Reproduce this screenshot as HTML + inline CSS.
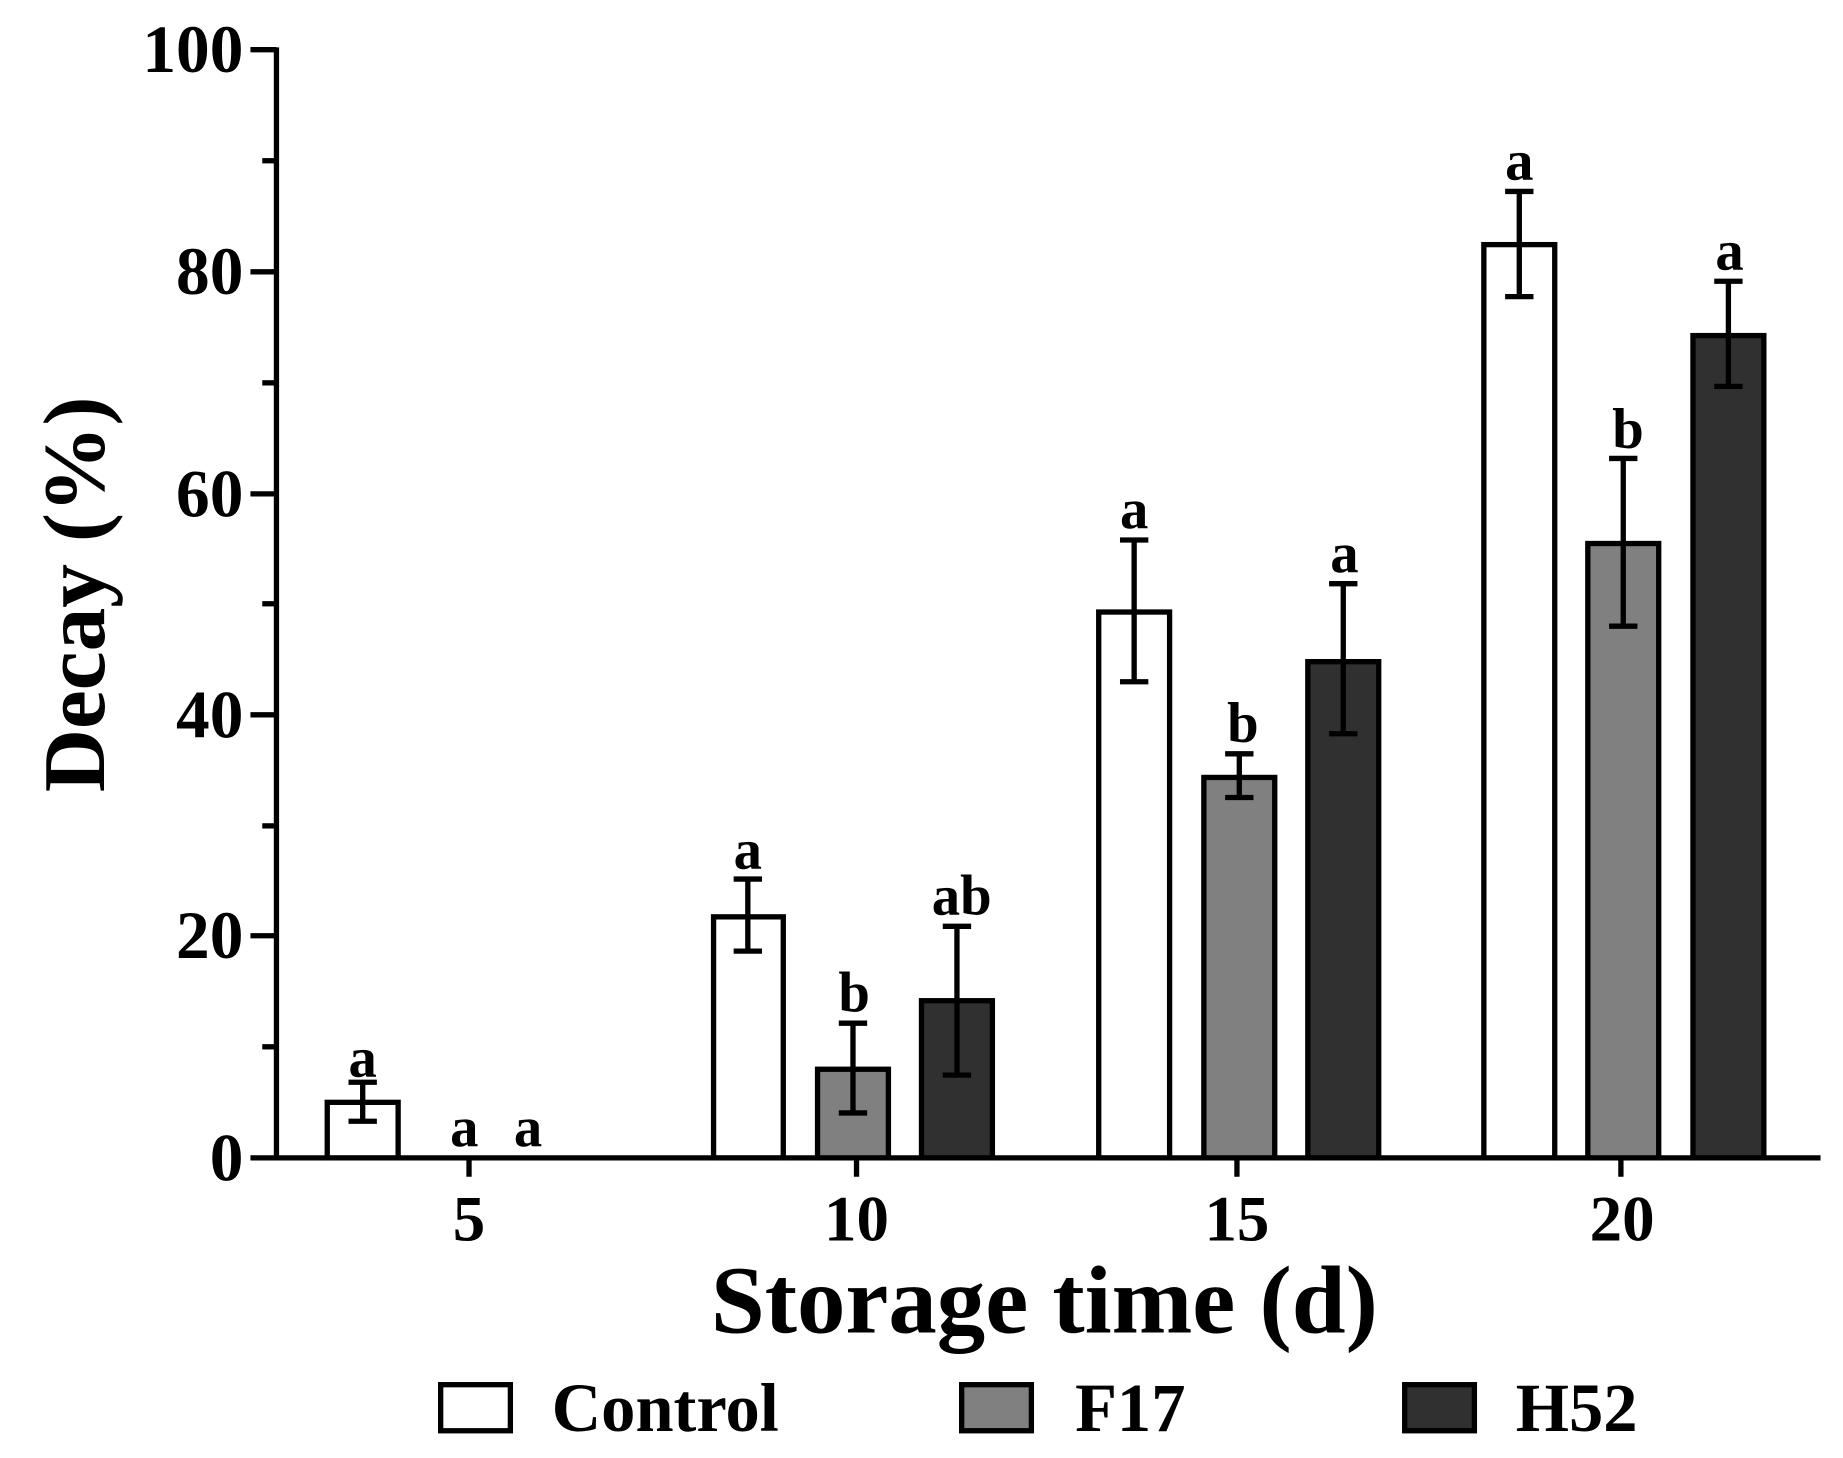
<!DOCTYPE html>
<html><head><style>html,body{margin:0;padding:0;background:#fff}svg{display:block}</style></head>
<body>
<svg width="1843" height="1458" viewBox="0 0 1560 1234" xmlns="http://www.w3.org/2000/svg" font-family="'Liberation Serif',serif" font-weight="bold">
<rect width="1560" height="1234" fill="#fff"/>
<g stroke="#000" stroke-width="4.5" fill="none">
<line x1="234" y1="40" x2="234" y2="982"/>
<line x1="212" y1="980" x2="1541" y2="980"/>
<line x1="212" y1="42" x2="234" y2="42"/>
<line x1="212" y1="230" x2="234" y2="230"/>
<line x1="212" y1="418" x2="234" y2="418"/>
<line x1="212" y1="605" x2="234" y2="605"/>
<line x1="212" y1="792" x2="234" y2="792"/>
<line x1="222" y1="136" x2="234" y2="136"/>
<line x1="222" y1="324" x2="234" y2="324"/>
<line x1="222" y1="511" x2="234" y2="511"/>
<line x1="222" y1="699" x2="234" y2="699"/>
<line x1="222" y1="886" x2="234" y2="886"/>
<line x1="397" y1="980" x2="397" y2="996"/>
<line x1="725" y1="980" x2="725" y2="996"/>
<line x1="1047" y1="980" x2="1047" y2="996"/>
<line x1="1372" y1="980" x2="1372" y2="996"/>
</g>
<g font-size="57" text-anchor="end">
<text x="206" y="61">100</text>
<text x="206" y="249">80</text>
<text x="206" y="437">60</text>
<text x="206" y="624">40</text>
<text x="206" y="811">20</text>
<text x="206" y="999">0</text>
</g>
<g font-size="55" text-anchor="middle">
<text x="397" y="1050">5</text>
<text x="725" y="1050">10</text>
<text x="1047" y="1050">15</text>
<text x="1373" y="1050">20</text>
</g>
<text x="884" y="1128" font-size="82" text-anchor="middle">Storage time (d)</text>
<text transform="translate(88,503) rotate(-90)" font-size="74" text-anchor="middle">Decay (%)</text>
<g stroke="#000" stroke-width="4.5">
<rect x="277" y="933" width="60" height="47" fill="#fff"/>
<rect x="604" y="776" width="59" height="204" fill="#fff"/>
<rect x="692" y="905" width="60" height="75" fill="#808080"/>
<rect x="780" y="847" width="60" height="133" fill="#303030"/>
<rect x="930" y="518" width="60" height="462" fill="#fff"/>
<rect x="1019" y="658" width="60" height="322" fill="#808080"/>
<rect x="1107" y="560" width="60" height="420" fill="#303030"/>
<rect x="1256" y="207" width="60" height="773" fill="#fff"/>
<rect x="1344" y="460" width="60" height="520" fill="#808080"/>
<rect x="1433" y="284" width="60" height="696" fill="#303030"/>
</g>
<g stroke="#000" stroke-width="4.5" fill="none">
<path d="M307 949V916M295 949H319M295 916H319"/>
<path d="M633 805V744M621 805H645M621 744H645"/>
<path d="M722 942V866M710 942H734M710 866H734"/>
<path d="M810 910V784M798 910H822M798 784H822"/>
<path d="M960 577V457M948 577H972M948 457H972"/>
<path d="M1049 675V638M1037 675H1061M1037 638H1061"/>
<path d="M1137 621V494M1125 621H1149M1125 494H1149"/>
<path d="M1286 251V162M1274 251H1298M1274 162H1298"/>
<path d="M1374 530V388M1362 530H1386M1362 388H1386"/>
<path d="M1463 327V238M1451 327H1475M1451 238H1475"/>
</g>
<g font-size="48" text-anchor="middle">
<text x="307" y="911">a</text>
<text x="393" y="970">a</text>
<text x="447" y="970">a</text>
<text x="633" y="735">a</text>
<text x="723" y="856">b</text>
<text x="814" y="774">ab</text>
<text x="960" y="447">a</text>
<text x="1052" y="628">b</text>
<text x="1138" y="484">a</text>
<text x="1286" y="152">a</text>
<text x="1378" y="379">b</text>
<text x="1464" y="228">a</text>
</g>
<g stroke="#000" stroke-width="4.5">
<rect x="373" y="1172" width="59" height="39" fill="#fff"/>
<rect x="814" y="1172" width="59" height="39" fill="#808080"/>
<rect x="1189" y="1172" width="59" height="39" fill="#303030"/>
</g>
<g font-size="58">
<text x="467" y="1211">Control</text>
<text x="910" y="1211">F17</text>
<text x="1283" y="1211">H52</text>
</g>
</svg>
</body></html>
